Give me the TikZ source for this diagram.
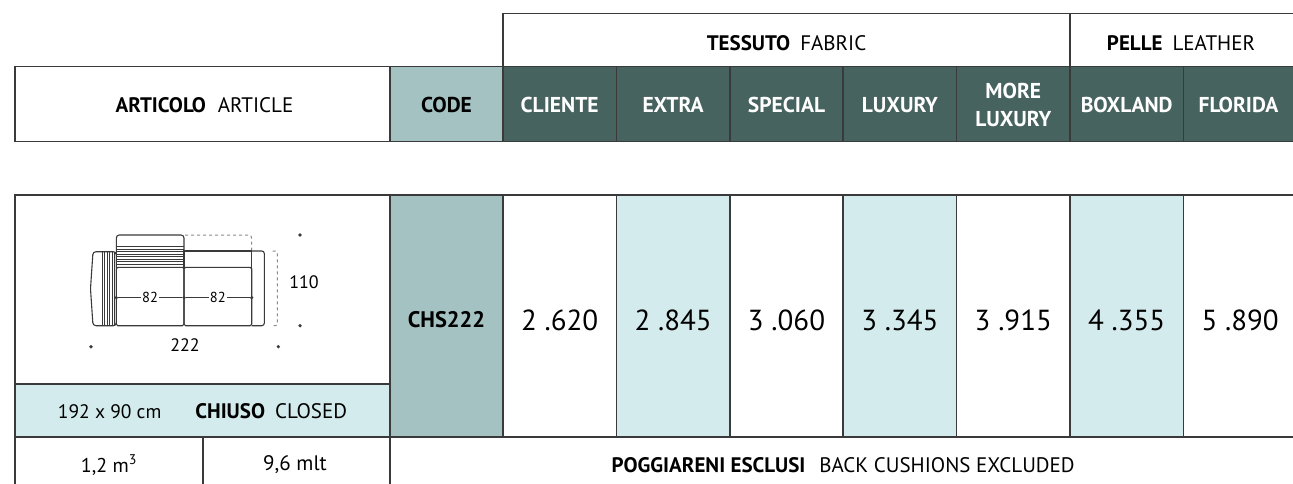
\documentclass[tikz,border=0pt]{standalone}
\usepackage{fontspec}
\setmainfont{PT Sans}
\definecolor{darkteal}{HTML}{46635F}
\definecolor{codegrey}{HTML}{A4C2C2}
\definecolor{lightcyan}{HTML}{D3EBEC}
\definecolor{rulegrey}{HTML}{3A3A3A}
\definecolor{dashgrey}{HTML}{8A8A8A}
\begin{document}
\begin{tikzpicture}[x=1pt,y=-1pt,
    rule/.style={draw=rulegrey,line width=1.5pt},
    label/.style={font=\fontsize{21}{25}\selectfont,inner sep=0pt},
    headcell/.style={font=\fontsize{21.5}{25}\selectfont\bfseries,text=white,align=center,inner sep=0pt},
    price/.style={font=\fontsize{29}{33}\selectfont,inner sep=0pt},
    sofa/.style={draw=rulegrey,line width=1.1pt},
    dimtext/.style={font=\fontsize{18}{20}\selectfont,inner sep=1pt},
    pin/.style={circle,fill=rulegrey,inner sep=0pt,minimum size=3.6pt}]
  \useasboundingbox (0,0) rectangle (1293,484);
  \clip (0,0) rectangle (1293,484);

  % fills
  \fill[darkteal] (503,66.7) rectangle (1296.8,141.7);
  \fill[codegrey] (390,66.7) rectangle (503,141.7);
  \fill[codegrey] (390,195) rectangle (503,437);
  \fill[lightcyan] (616.4,195) rectangle (729.8,437);
  \fill[lightcyan] (843.2,195) rectangle (956.6,437);
  \fill[lightcyan] (1070,195) rectangle (1183.4,437);
  \fill[lightcyan] (15,384) rectangle (390,437);

  % header rules
  \draw[rule] (503,66.7) -- (503,13.3) -- (1296.8,13.3);
  \draw[rule] (1070,13.3) -- (1070,66.7);
  \draw[rule] (15,66.7) rectangle (1296.8,141.7);
  \foreach \cx in {390,503,616.4,729.8,843.2,956.6,1070,1183.4}
    \draw[rule] (\cx,66.7) -- (\cx,141.7);

  % table rules
  \draw[rule] (15,195) rectangle (1296.8,490);
  \draw[rule] (15,384) -- (390,384);
  \draw[rule] (15,437) -- (1296.8,437);
  \draw[rule] (390,195) -- (390,490);
  \draw[rule] (203,437) -- (203,490);
  \foreach \cx in {503,616.4,729.8,843.2,956.6,1070,1183.4}
    \draw[rule] (\cx,195) -- (\cx,437);

  % header texts
  \node[label] (tessuto) at (786.5,43) {{\bfseries TESSUTO}\hspace{10pt}FABRIC};
  \node[label] (pelle) at (1181,43) {{\bfseries PELLE}\hspace{10pt}LEATHER};
  \node[label] (articolo) at (204.5,105) {{\bfseries ARTICOLO}\hspace{12pt}ARTICLE};
  \node[label,font=\fontsize{21.5}{25}\selectfont\bfseries] (code) at (446.5,105) {CODE};
  \node[headcell] (cliente) at (559.7,105) {CLIENTE};
  \node[headcell] (extra) at (673.1,105) {EXTRA};
  \node[headcell] (special) at (786.5,105) {SPECIAL};
  \node[headcell] (luxury) at (899.9,105) {LUXURY};
  \node[headcell,font=\fontsize{21.5}{28}\selectfont\bfseries] (moreluxury) at (1013.3,105) {MORE\\LUXURY};
  \node[headcell] (boxland) at (1126.7,105) {BOXLAND};
  \node[headcell] (florida) at (1238.5,105) {FLORIDA};

  % row texts
  \node[label,font=\fontsize{22.5}{25}\selectfont\bfseries] (chs) at (446.5,320) {CHS222};
  \node[price] (pcliente) at (559.7,320) {2 .620};
  \node[price] (pextra) at (673.1,320) {2 .845};
  \node[price] (pspecial) at (786.5,320) {3 .060};
  \node[price] (pluxury) at (899.9,320) {3 .345};
  \node[price] (pmore) at (1013.3,320) {3 .915};
  \node[price] (pboxland) at (1126.7,320) {4 .355};
  \node[price] (pflorida) at (1240.1,320) {5 .890};
  \node[label] (chiuso) at (202.5,411) {{\fontsize{19.5}{23}\selectfont 192 x 90 cm}\hspace{34pt}{\bfseries CHIUSO}\hspace{10pt}CLOSED};
  \node[label,font=\fontsize{20}{24}\selectfont] (volume) at (109,465) {1,2 m\textsuperscript{3}};
  \node[label] (mlt) at (295,465) {9,6 mlt};
  \node[label] (cushions) at (843.2,465) {{\bfseries POGGIARENI ESCLUSI}\hspace{14pt}BACK CUSHIONS EXCLUDED};

  % sofa
  \draw[sofa,rounded corners=3pt] (116.3,251.7) -- (93,251.7) -- (90.5,288.7) -- (93,325.7) -- (116.3,325.7) -- cycle;
  \foreach \sx in {102,104.5,107,109.5,112,114.3}
    \draw[sofa,line width=0.5pt] (\sx,251.7) -- (\sx,325.7);
  \draw[sofa,rounded corners=3pt] (116.3,267.3) -- (116.3,235) -- (184,235) -- (184,267.3);
  \foreach \sy in {246.7,249,251.7,254,256.7,259,261.7,264}
    \draw[sofa,line width=0.5pt] (116.3,\sy) -- (184,\sy);
  \draw[dashgrey,dashed,line width=1pt,rounded corners=3pt] (185,235) -- (251.7,235) -- (251.7,251);
  \draw[sofa] (184,251) rectangle (251.7,267.3);
  \draw[sofa,rounded corners=1.5pt] (116.3,267.3) rectangle (184,325.7);
  \draw[sofa,rounded corners=1.5pt] (184,267.3) rectangle (251.7,325.7);
  \draw[sofa,rounded corners=2.5pt] (251.7,251) -- (264.3,251) -- (264.3,325.7) -- (251.7,325.7);
  \node[pin] (da) at (116.3,297.7) {};
  \node[pin] (db) at (184,297.7) {};
  \node[pin] (dc) at (251.7,297.7) {};
  \draw[sofa] (da) -- node[dimtext,fill=white,font=\fontsize{14.5}{16}\selectfont] (wa) {82} (db)
                   -- node[dimtext,fill=white,font=\fontsize{14.5}{16}\selectfont] (wb) {82} (dc);
  \draw[dashgrey,dashed,line width=1pt,rounded corners=2pt] (272.7,251) -- (277.3,251) -- (277.3,325.7) -- (272.7,325.7);
  \node[dimtext] (depth) at (304,281.7) {110};
  \node[dimtext] (width) at (185,345) {222};
  \node[pin] (pa) at (300,235) {};
  \node[pin] (pb) at (300,325.7) {};
  \node[pin] (pc) at (91,346.7) {};
  \node[pin] (pd) at (278.3,346.7) {};
\end{tikzpicture}
\end{document}
